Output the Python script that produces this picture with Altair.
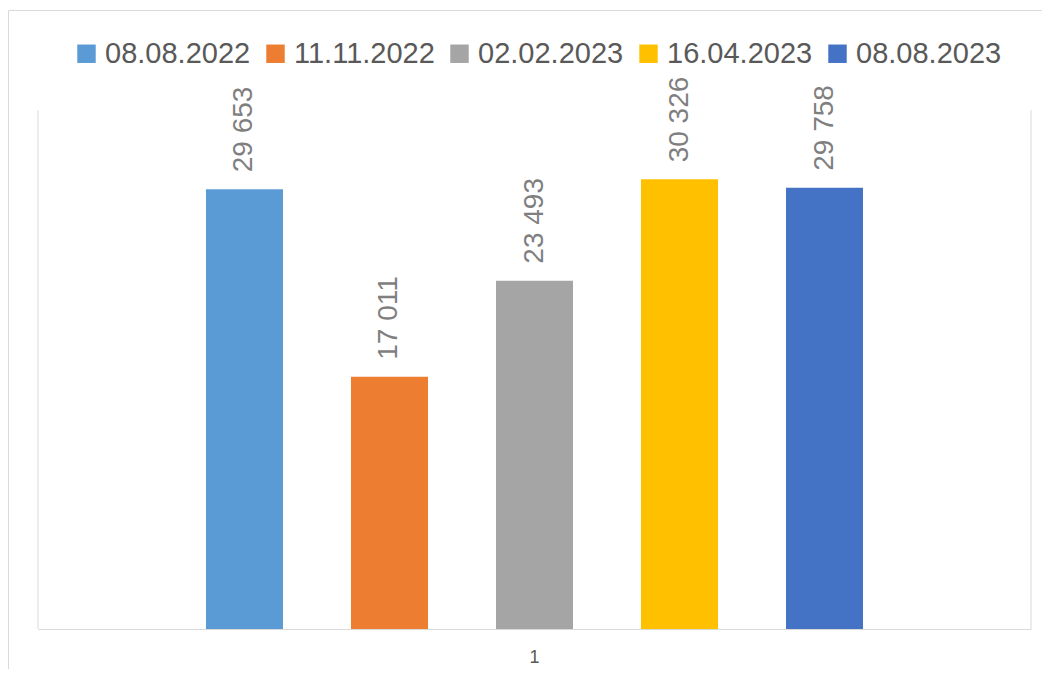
import altair as alt
import pandas as pd

categories = ["1"]
series = ["08.08.2022", "11.11.2022", "02.02.2023", "16.04.2023", "08.08.2023"]
values = [29653, 17011, 23493, 30326, 29758]
colors = ["#5B9BD5", "#ED7D31", "#A5A5A5", "#FFC000", "#4472C4"]

df = pd.DataFrame({
    "cat": categories * len(series),
    "series": series,
    "value": values,
})
df["label"] = [f"{v:,}".replace(",", " ") for v in values]

W, H = 993, 519
FONT = "Liberation Sans"
GRID = "#d9d9d9"

x_enc = alt.X("cat:N", scale=alt.Scale(paddingInner=0, paddingOuter=0.1848),
              axis=alt.Axis(title=None, labelAngle=0, ticks=False, domainColor=GRID,
                            domainWidth=1, labelFontSize=18, labelFont=FONT,
                            labelColor="#595959", labelPadding=19))
xoff_enc = alt.XOffset("series:N", sort=series,
                       scale=alt.Scale(domain=series, paddingInner=0.469, paddingOuter=0.2345))
y_enc = alt.Y("value:Q", scale=alt.Scale(domain=[0, 35000], nice=False), axis=None)

base = alt.Chart(df)

bars = base.mark_bar().encode(
    x=x_enc,
    xOffset=xoff_enc,
    y=y_enc,
    color=alt.Color("series:N", sort=series,
                    scale=alt.Scale(domain=series, range=colors),
                    legend=alt.Legend(orient="none", legendX=34, legendY=-71,
                                      direction="horizontal", columns=5, title=None,
                                      symbolType="square", symbolSize=340,
                                      symbolStrokeWidth=0, labelFontSize=29,
                                      labelFont=FONT, labelColor="#595959",
                                      labelOffset=4, columnPadding=10,
                                      labelLimit=300, padding=0)),
)

labels = base.mark_text(angle=270, align="left", baseline="middle", dx=17,
                        fontSize=28, font=FONT, color="#7F7F7F").encode(
    x=x_enc,
    xOffset=xoff_enc,
    y=y_enc,
    text="label:N",
)

one = alt.Data(values=[{}])
border = alt.Chart(one).mark_rect(fill="transparent", stroke=GRID, strokeWidth=1).encode(
    x=alt.value(-29.5), x2=alt.value(1030), y=alt.value(-99.5), y2=alt.value(620)
)
left_line = alt.Chart(one).mark_rule(color=GRID, strokeWidth=1).encode(
    x=alt.value(0), y=alt.value(0), y2=alt.value(H)
)
right_line = alt.Chart(one).mark_rule(color=GRID, strokeWidth=1).encode(
    x=alt.value(W), y=alt.value(0), y2=alt.value(H)
)

chart = alt.layer(border, left_line, right_line, bars, labels).properties(
    width=W, height=H,
    autosize=alt.AutoSizeParams(type="none"),
    padding={"left": 30, "top": 102, "right": 11, "bottom": 40},
    background="white",
).configure_view(stroke=None)

chart.save("out.html", embed_options={"renderer": "svg", "actions": False})
